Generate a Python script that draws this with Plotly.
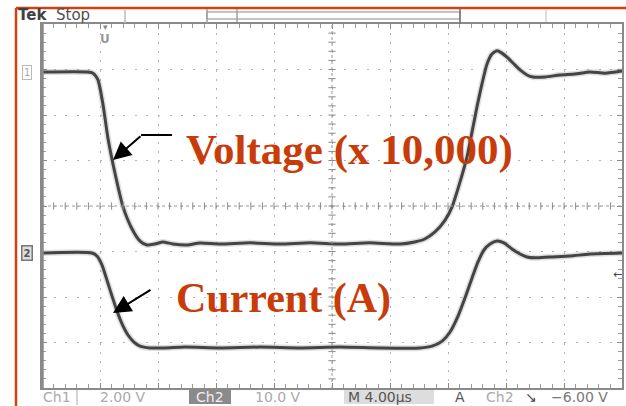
import plotly.graph_objects as go

W, H = 626, 406

# ---- data (time in microseconds, amplitude in screen divisions from centre) ----
volt_t = [0, 3.17, 3.52, 3.86, 4.21, 4.55, 5.03, 5.59, 6.21, 6.76, 7.24, 7.79, 8.34, 9.03, 10.0,
          10.9, 12.28, 14.34, 16.4, 18.5, 20.55, 22.6, 24.7, 25.7, 26.4, 27.1, 27.8, 28.28, 28.83,
          29.31, 29.66, 30.0, 30.34, 30.69, 31.03, 31.38, 31.72, 32.07, 32.55, 32.97, 33.45, 33.86,
          34.69, 35.72, 36.76, 37.79, 38.83, 40.0]
volt_v = [2.945, 2.945, 2.92, 2.77, 2.22, 1.49, 0.725, -0.02, -0.505, -0.77, -0.857, -0.835, -0.79,
          -0.835, -0.857, -0.813, -0.835, -0.81, -0.835, -0.81, -0.835, -0.81, -0.835, -0.79, -0.725,
          -0.57, -0.31, -0.02, 0.53, 1.08, 1.63, 2.18, 2.68, 3.12, 3.34, 3.41, 3.36, 3.27, 3.12, 2.99,
          2.88, 2.835, 2.835, 2.88, 2.90, 2.945, 2.92, 2.967]

curr_t = [0, 3.45, 3.79, 4.14, 4.48, 4.83, 5.17, 5.52, 5.93, 6.34, 6.76, 7.45, 8.48, 9.86, 12.28,
          15.03, 17.8, 20.55, 23.3, 26.07, 26.9, 27.6, 28.14, 28.69, 29.17, 29.66, 30.07, 30.48,
          30.9, 31.38, 31.86, 32.41, 32.97, 33.45, 34.0, 35.03, 36.41, 37.79, 40.0]
curr_v = [-1.033, -1.033, -1.10, -1.30, -1.63, -1.98, -2.31, -2.59, -2.835, -2.99, -3.08, -3.12,
          -3.12, -3.10, -3.12, -3.10, -3.12, -3.10, -3.12, -3.12, -3.08, -2.97, -2.77, -2.42, -2.02,
          -1.58, -1.23, -0.967, -0.835, -0.77, -0.81, -0.945, -1.055, -1.12, -1.14, -1.12, -1.10,
          -1.055, -1.033]

labels = ["Voltage (x 10,000)", "Current (A)"]
status_top = ["Tek", "Stop"]
status_bottom = ["Ch1", "2.00 V", "Ch2", "10.0 V", "M 4.00µs", "A", "Ch2", "↘", "−6.00 V"]

# ---- helpers for pixel -> paper ----
def px(x):
    return x / W

def py(y):
    return 1 - y / H

fig = go.Figure()
for t, v in [(volt_t, volt_v), (curr_t, curr_v)]:
    fig.add_trace(go.Scatter(x=t, y=v, mode="lines",
                             line=dict(color="rgba(150,150,150,0.30)", width=6, shape="spline", smoothing=0.6),
                             hoverinfo="skip", showlegend=False))
    fig.add_trace(go.Scatter(x=t, y=v, mode="lines",
                             line=dict(color="#444444", width=3, shape="spline", smoothing=0.6),
                             showlegend=False))

shapes = []
# centre cross
shapes.append(dict(type="line", xref="x", yref="y", x0=0, x1=40, y0=0, y1=0,
                   line=dict(color="#9a9a9a", width=1, dash="3px,3px")))
shapes.append(dict(type="line", xref="x", yref="y", x0=20, x1=20, y0=-4, y1=4,
                   line=dict(color="#9a9a9a", width=1, dash="3px,3px")))
for i in range(1, 50):
    xx = i * 0.8
    shapes.append(dict(type="line", xref="x", yref="y", x0=xx, x1=xx, y0=-0.08, y1=0.08,
                       line=dict(color="#8a8a8a", width=1)))
for i in range(1, 40):
    yy = -4 + i * 0.2
    shapes.append(dict(type="line", xref="x", yref="y", x0=19.75, x1=20.25, y0=yy, y1=yy,
                       line=dict(color="#8a8a8a", width=1)))
# thicker left graticule edge
shapes.append(dict(type="line", xref="x", yref="y", x0=0, x1=0, y0=-4, y1=4,
                   line=dict(color="#8a8a8a", width=3.5)))

# red page border
red = "#d4400f"
shapes.append(dict(type="line", xref="paper", yref="paper", x0=px(16), x1=px(626), y0=py(8), y1=py(8),
                   line=dict(color=red, width=2.5)))
shapes.append(dict(type="line", xref="paper", yref="paper", x0=px(16), x1=px(16), y0=py(8), y1=py(406),
                   line=dict(color=red, width=2.5)))
# top status decorations
shapes.append(dict(type="line", xref="paper", yref="paper", x0=px(125), x1=px(125), y0=py(10), y1=py(23),
                   line=dict(color="#bbbbbb", width=1.5)))
shapes.append(dict(type="rect", xref="paper", yref="paper", x0=px(207), x1=px(460), y0=py(12), y1=py(19),
                   line=dict(color="#b0b0b0", width=1.5)))
shapes.append(dict(type="line", xref="paper", yref="paper", x0=px(207), x1=px(207), y0=py(9), y1=py(23),
                   line=dict(color="#a0a0a0", width=1.5)))
shapes.append(dict(type="line", xref="paper", yref="paper", x0=px(237), x1=px(237), y0=py(9), y1=py(22),
                   line=dict(color="#a0a0a0", width=1.5)))
shapes.append(dict(type="line", xref="paper", yref="paper", x0=px(460), x1=px(460), y0=py(8), y1=py(24),
                   line=dict(color="#707070", width=1.5)))
shapes.append(dict(type="line", xref="paper", yref="paper", x0=px(546), x1=px(546), y0=py(10), y1=py(22),
                   line=dict(color="#d0d0d0", width=1.5)))
# bottom status decorations
shapes.append(dict(type="line", xref="paper", yref="paper", x0=px(77), x1=px(77), y0=py(390), y1=py(405),
                   line=dict(color="#aaaaaa", width=1)))
shapes.append(dict(type="rect", xref="paper", yref="paper", x0=px(189), x1=px(231), y0=py(390), y1=py(404),
                   fillcolor="#8a8a8a", line=dict(width=0)))
shapes.append(dict(type="rect", xref="paper", yref="paper", x0=px(344), x1=px(434), y0=py(390), y1=py(404),
                   fillcolor="#dddddd", line=dict(width=0)))
# voltage arrow tail
shapes.append(dict(type="line", xref="paper", yref="paper", x0=px(172), x1=px(141), y0=py(135), y1=py(135),
                   line=dict(color="black", width=2)))

ann = []
def text(x, y, s, size=11, color="#aaaaaa", xanchor="left", family="DejaVu Sans", **kw):
    ann.append(dict(x=px(x), y=py(y), xref="paper", yref="paper", text=s, showarrow=False,
                    xanchor=xanchor, yanchor="middle", font=dict(size=size, color=color, family=family), **kw))

text(16, 15, "<b>" + status_top[0] + "</b>", size=15, color="#404040")
text(54, 15, status_top[1], size=15, color="#505050")
text(105, 39, "<b>U</b>", size=12, color="#999999", xanchor="center")
text(105, 27, "▾", size=9, color="#888888", xanchor="center")
text(27, 72, "1", size=10, color="#aaaaaa", xanchor="center", bordercolor="#bbbbbb", borderwidth=1, borderpad=1)
text(27, 253, "<b>2</b>", size=10, color="#555555", xanchor="center", bordercolor="#777777", borderwidth=1.5,
     borderpad=1, bgcolor="#dddddd")
text(617, 274, "←", size=11, color="#444444", xanchor="center")

# bottom status text
sb = 14
text(57, 397, status_bottom[0], size=sb, color="#aaaaaa", xanchor="center")
text(98, 397, status_bottom[1], size=sb, color="#aaaaaa")
text(210, 397, status_bottom[2], size=sb, color="#eeeeee", xanchor="center")
text(253, 397, status_bottom[3], size=sb, color="#aaaaaa")
text(346, 397, status_bottom[4], size=sb, color="#555555")
text(460, 397, status_bottom[5], size=sb, color="#555555", xanchor="center")
text(500, 397, status_bottom[6], size=sb, color="#aaaaaa", xanchor="center")
text(531, 397, status_bottom[7], size=sb, color="#444444", xanchor="center")
text(549, 397, status_bottom[8], size=sb, color="#777777")

# big labels
text(184, 150, "<b>" + labels[0] + "</b>", size=43, color="#c83c0a", family="Liberation Serif")
text(174, 298, "<b>" + labels[1] + "</b>", size=42, color="#c83c0a", family="Liberation Serif")

# arrows
for tip, tail in [((113, 160), (142, 135)), ((113, 313), (152, 289))]:
    ann.append(dict(x=px(tip[0]), y=py(tip[1]), xref="paper", yref="paper", text="", showarrow=True,
                    ax=tail[0] - tip[0], ay=tail[1] - tip[1], arrowhead=2, arrowsize=1.8, arrowwidth=2,
                    arrowcolor="black"))

fig.update_layout(
    width=W, height=H, margin=dict(l=0, r=0, t=0, b=0),
    paper_bgcolor="white", plot_bgcolor="white",
    shapes=shapes, annotations=ann, showlegend=False,
    xaxis=dict(range=[0, 40], domain=[px(42), px(622)], showticklabels=False, zeroline=False,
               showgrid=True, dtick=4, tick0=0, gridcolor="#b5b5b5", griddash="2px,7.1px", gridwidth=1,
               showline=True, linecolor="#8a8a8a", linewidth=2, mirror="ticks",
               ticks="inside", ticklen=5, tickcolor="#8a8a8a",
               minor=dict(ticks="inside", dtick=0.8, tick0=0, ticklen=4, tickcolor="#9a9a9a", showgrid=False)),
    yaxis=dict(range=[-4, 4], domain=[py(388), py(24)], showticklabels=False, zeroline=False,
               showgrid=True, dtick=1, tick0=0, gridcolor="#b5b5b5", griddash="2px,9.6px", gridwidth=1,
               showline=True, linecolor="#8a8a8a", linewidth=2, mirror="ticks",
               ticks="inside", ticklen=5, tickcolor="#8a8a8a",
               minor=dict(ticks="inside", dtick=0.2, tick0=0, ticklen=4, tickcolor="#9a9a9a", showgrid=False)),
)

fig.write_html("out.html", config={"displayModeBar": False},
               post_script="document.body.style.margin='0px';document.body.style.overflow='hidden';")
